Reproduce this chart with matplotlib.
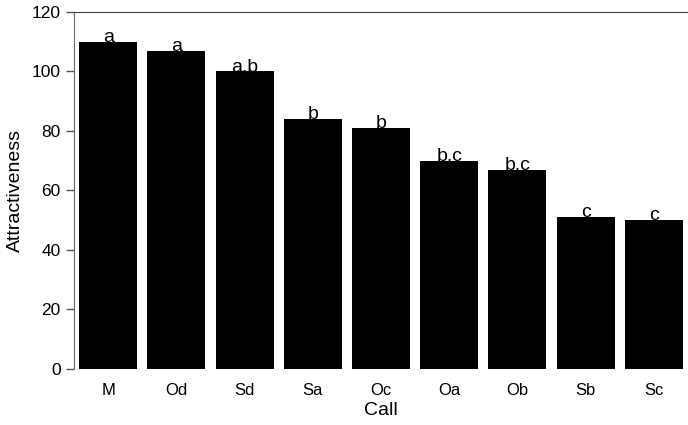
import numpy as np
import matplotlib.pyplot as plt

plt.rcParams['font.family'] = ['Liberation Sans', 'DejaVu Sans']

# data
calls = ['M', 'Od', 'Sd', 'Sa', 'Oc', 'Oa', 'Ob', 'Sb', 'Sc']
attract = [110, 107, 100, 84, 81, 70, 67, 51, 50]
groups = ['a', 'a', 'a,b', 'b', 'b', 'b,c', 'b,c', 'c', 'c']

fig = plt.figure(figsize=(6.88, 4.25), dpi=100)
ax = fig.add_axes([0.1076, 0.1318, 0.8924, 0.84])

x = np.arange(len(calls))
ax.bar(x, attract, width=0.85, color='black')

# significance letters above each bar
for xi, v, g in zip(x, attract, groups):
    ax.text(xi, v - 1.4, g, ha='center', va='bottom', fontsize=14)

ax.set_xlim(-0.5, len(calls) - 0.5)
ax.set_ylim(0, 120)
ax.set_yticks(range(0, 121, 20))
ax.set_xticks(x)
ax.set_xticklabels(calls)
ax.tick_params(axis='x', length=0, pad=10, labelsize=12)
ax.tick_params(axis='y', length=6, width=1, color='#555555', labelsize=12.5)

ax.set_xlabel('Call', fontsize=14, labelpad=3)
ax.set_ylabel('Attractiveness', fontsize=14, labelpad=6)

ax.spines['right'].set_visible(False)
ax.spines['bottom'].set_visible(False)
ax.spines['top'].set_color('#444444')
ax.spines['left'].set_color('#666666')

fig.savefig('out.png', dpi=100)
